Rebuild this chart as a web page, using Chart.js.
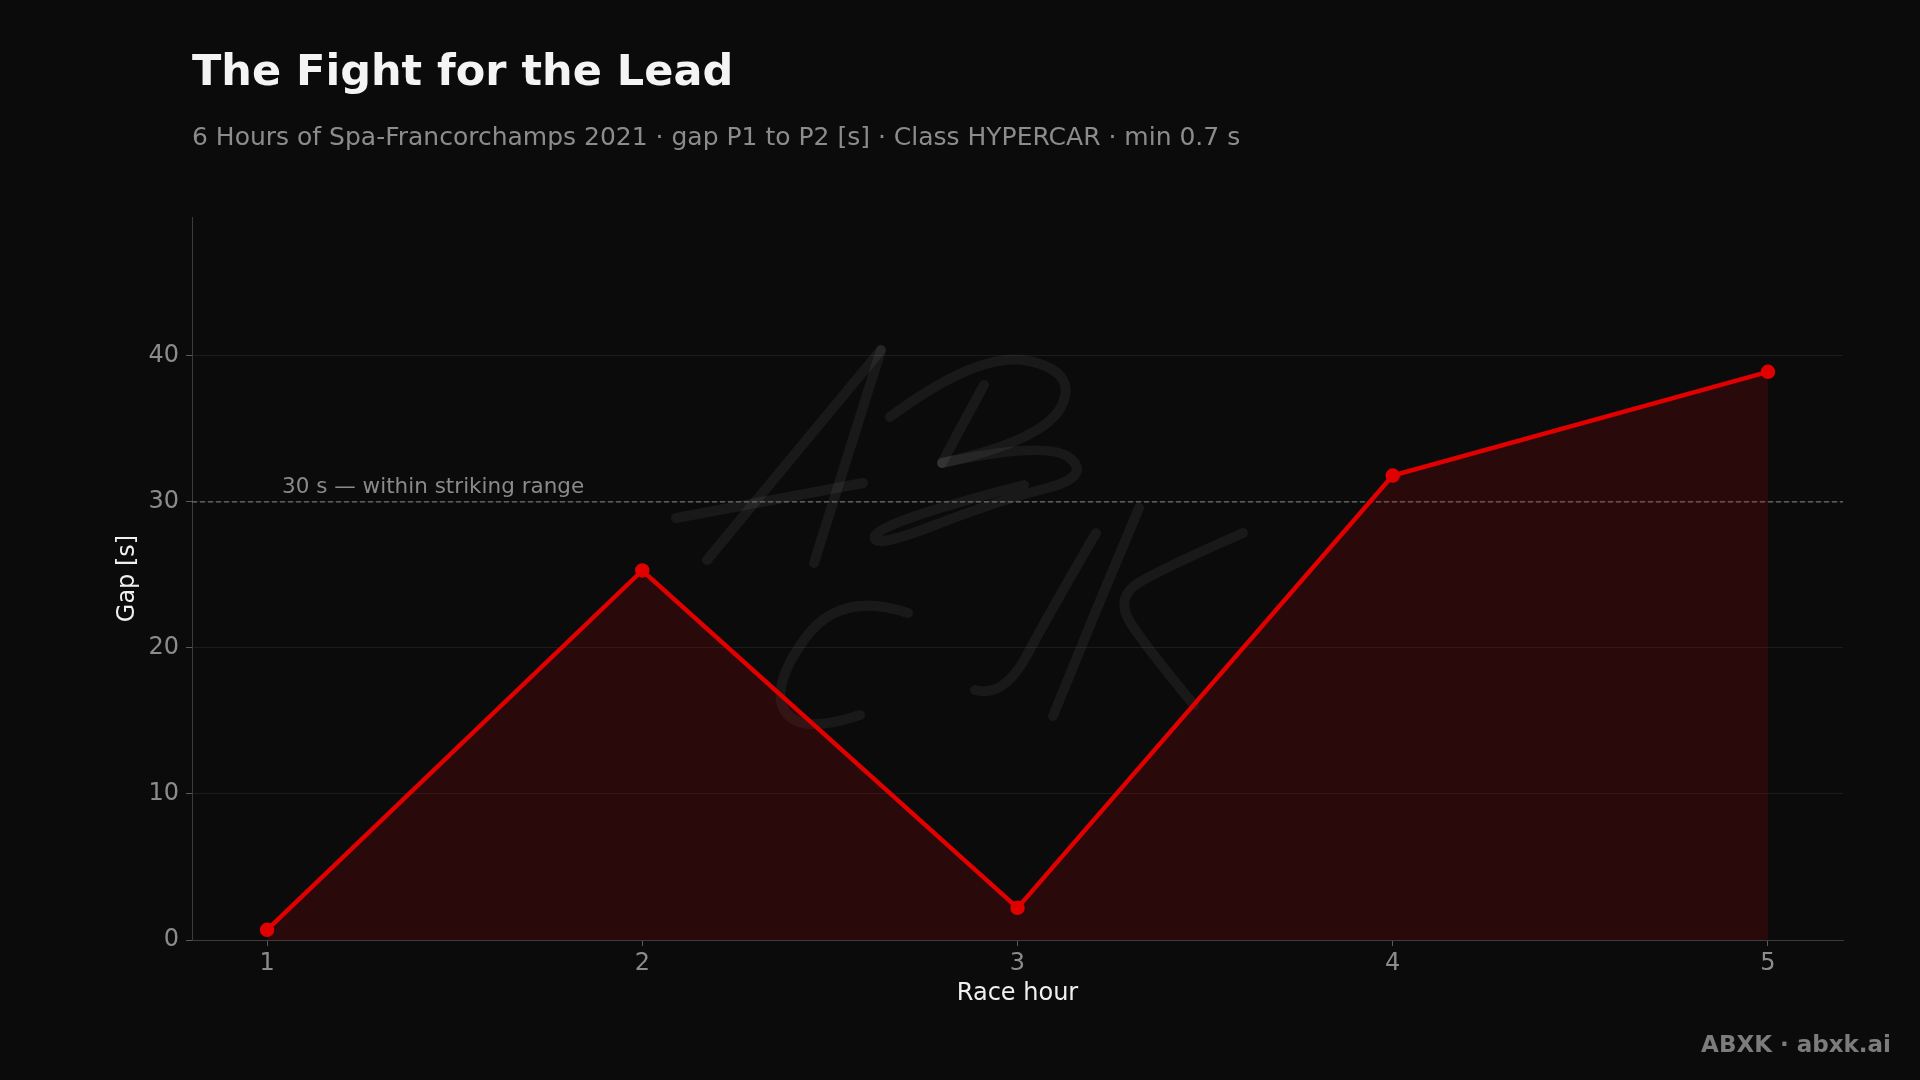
<!DOCTYPE html>
<html>
<head>
<meta charset="utf-8">
<script src="https://cdn.jsdelivr.net/npm/chart.js@4.4.1/dist/chart.umd.min.js"></script>
<style>
  html, body { margin: 0; padding: 0; background: #0b0b0b; }
  body { width: 1920px; height: 1080px; position: relative; overflow: hidden; font-family: "DejaVu Sans", sans-serif; }
  #grafico { position: absolute; left: 0; top: 0; }
  .titulo { position: absolute; left: 192px; top: 49px; font-size: 43px; line-height: 1; font-weight: bold; color: #f4f4f4; white-space: nowrap; }
  .subtitulo { position: absolute; left: 192px; top: 124px; font-size: 25px; line-height: 1; color: #8c8c8c; white-space: nowrap; }
  .pie { position: absolute; right: 29px; top: 1033px; font-size: 23px; line-height: 1; font-weight: bold; color: #7c7c7c; white-space: nowrap; }
</style>
</head>
<body>
<canvas id="grafico" width="1920" height="1080"></canvas>
<div class="titulo">The Fight for the Lead</div>
<div class="subtitulo">6 Hours of Spa-Francorchamps 2021 · gap P1 to P2 [s] · Class HYPERCAR · min 0.7 s</div>
<div class="pie">ABXK · abxk.ai</div>

<script>
// datos
const horas = [1, 2, 3, 4, 5];
const gap = [0.7, 25.3, 2.2, 31.8, 38.9];
const yTicks = [0, 10, 20, 30, 40];
const umbral = 30;
const umbralTexto = '30 s — within striking range';

const fuente = '"DejaVu Sans", sans-serif';

// firma de fondo (trazos a mano)
const trazos = [
    [[707, 560], [794, 455], [881, 350]],
    [[881, 350], [848, 456], [814, 563]],
    [[676, 518], [770, 500], [863, 483]],
    [[984, 385], [962, 425], [942, 463]],
    [[890, 417], [980, 350], [1078, 372], [1045, 440], [942, 463]],
    [[942, 463], [1050, 440], [1091, 477], [1000, 500], [870, 550], [880, 522], [1024, 485]],
    [[908, 613], [840, 590], [770, 687], [800, 735], [860, 715]],
    [[1096, 533], [1050, 612], [1004, 698], [975, 690]],
    [[1139, 508], [1095, 612], [1053, 716]],
    [[1243, 533], [1170, 565], [1113, 597], [1150, 652], [1194, 705]]
];

// linea discontinua del umbral + firma
const extras = {
    id: 'extras',
    beforeDatasetsDraw(chart) {
        const ctx = chart.ctx;
        const a = chart.chartArea;
        ctx.save();
        ctx.strokeStyle = 'rgba(255,255,255,0.06)';
        ctx.lineWidth = 10;
        ctx.lineCap = 'round';
        ctx.lineJoin = 'round';
        trazos.forEach(t => {
            ctx.beginPath();
            ctx.moveTo(t[0][0], t[0][1]);
            for (let i = 1; i < t.length - 1; i++) {
                const ultimo = i == t.length - 2;
                const mx = ultimo ? t[i + 1][0] : (t[i][0] + t[i + 1][0]) / 2;
                const my = ultimo ? t[i + 1][1] : (t[i][1] + t[i + 1][1]) / 2;
                ctx.quadraticCurveTo(t[i][0], t[i][1], mx, my);
            }
            ctx.stroke();
        });
        ctx.restore();

        const y = chart.scales.y.getPixelForValue(umbral);
        ctx.save();
        ctx.strokeStyle = '#707070';
        ctx.lineWidth = 1.3;
        ctx.setLineDash([5, 3]);
        ctx.beginPath();
        ctx.moveTo(a.left, y);
        ctx.lineTo(a.right, y);
        ctx.stroke();
        ctx.setLineDash([]);
        ctx.fillStyle = '#8a8a8a';
        ctx.font = '21.5px ' + fuente;
        ctx.textBaseline = 'bottom';
        ctx.fillText(umbralTexto, chart.scales.x.getPixelForValue(1.04), y - 4);
        ctx.restore();
    }
};

const ctx = document.getElementById('grafico').getContext('2d');
const myChart = new Chart(ctx, {
    type: 'line',
    data: {
        datasets: [{
            label: 'Gap',
            data: horas.map((h, i) => ({ x: h, y: gap[i] })),
            borderColor: '#e00000',
            backgroundColor: 'rgba(215,0,0,0.15)',
            pointBackgroundColor: '#e00000',
            pointBorderColor: '#e00000',
            pointRadius: 5,
            borderWidth: 4.5,
            fill: 'origin',
            tension: 0
        }]
    },
    options: {
        responsive: false,
        animation: false,
        layout: { padding: { left: 100, right: 77, top: 217, bottom: 0 } },
        plugins: {
            legend: { display: false },
            tooltip: { enabled: false }
        },
        scales: {
            x: {
                type: 'linear',
                min: 0.8,
                max: 5.2,
                afterBuildTicks: s => { s.ticks = horas.map(v => ({ value: v })); },
                afterFit: s => { s.height = 140; },
                grid: { drawOnChartArea: false, tickLength: 6, tickColor: '#5a5a5a' },
                border: { color: '#3c3c3c', width: 1 },
                ticks: { color: '#8c8c8c', font: { family: fuente, size: 24 }, padding: 3 },
                title: { display: true, text: 'Race hour', color: '#f0f0f0', font: { family: fuente, size: 24 }, padding: { top: 0, bottom: 72 } }
            },
            y: {
                min: 0,
                max: 49.5,
                afterBuildTicks: s => { s.ticks = yTicks.map(v => ({ value: v })); },
                afterFit: s => { s.width = 92; },
                grid: { color: 'rgba(255,255,255,0.07)', tickLength: 6, tickColor: '#5a5a5a' },
                border: { color: '#3c3c3c', width: 1 },
                ticks: { color: '#8c8c8c', font: { family: fuente, size: 24 }, padding: 7 },
                title: { display: true, text: 'Gap [s]', color: '#f0f0f0', font: { family: fuente, size: 24 }, padding: { top: 13, bottom: 0 } }
            }
        }
    },
    plugins: [extras]
});
</script>
</body>
</html>
